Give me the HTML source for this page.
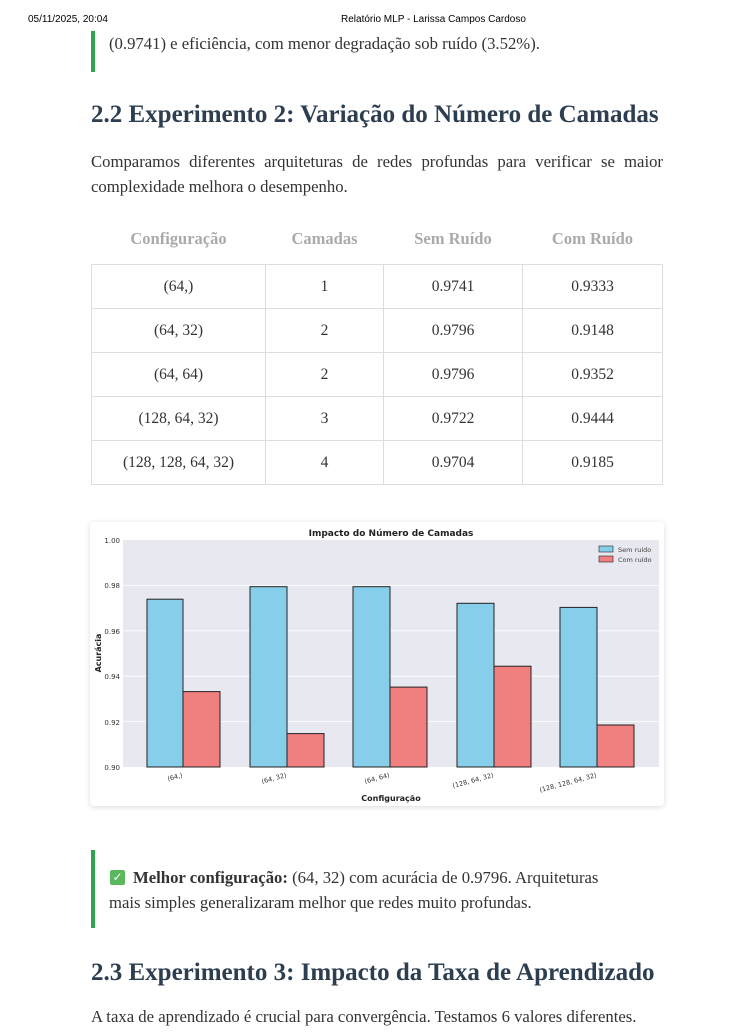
<!DOCTYPE html>
<html><head><meta charset="utf-8"><style>
body{margin:0;width:754px;height:1035px;background:#fff;position:relative;overflow:hidden;font-family:"Liberation Serif",serif;color:#333}
.a{position:absolute;white-space:nowrap}
.h{font-weight:bold;color:#2c3e50;font-size:25px}
.p{font-size:16.7px;color:#333}
table{position:absolute;left:91px;top:220px;border-collapse:collapse;font-size:15.5px;color:#333}
th{color:#aaa;font-weight:bold;font-size:16.5px;height:38px;padding:0 0 6px 0}
td{border:1px solid #ddd;text-align:center;height:43px;padding:0}
</style></head><body>
<div class="a" style="left:28px;top:14px;font:10px 'Liberation Sans',sans-serif;color:#000">05/11/2025, 20:04</div>
<div class="a" style="left:341px;top:14px;font:10px 'Liberation Sans',sans-serif;color:#000">Relatório MLP - Larissa Campos Cardoso</div>
<div class="a" style="left:91px;top:31px;width:4px;height:41px;background:#2ea44f"></div>
<div class="a p" style="left:109px;top:34px">(0.9741) e eficiência, com menor degradação sob ruído (3.52%).</div>
<div class="a h" style="left:91px;top:101px">2.2 Experimento 2: Variação do Número de Camadas</div>
<div class="a p" style="left:91px;top:149px;width:572px;line-height:25px;white-space:normal;text-align:justify">Comparamos diferentes arquiteturas de redes profundas para verificar se maior complexidade melhora o desempenho.</div>
<table>
<tr><th style="width:174px">Configuração</th><th style="width:118px">Camadas</th><th style="width:139px">Sem Ruído</th><th style="width:140px">Com Ruído</th></tr>
<tr><td>(64,)</td><td>1</td><td>0.9741</td><td>0.9333</td></tr>
<tr><td>(64, 32)</td><td>2</td><td>0.9796</td><td>0.9148</td></tr>
<tr><td>(64, 64)</td><td>2</td><td>0.9796</td><td>0.9352</td></tr>
<tr><td>(128, 64, 32)</td><td>3</td><td>0.9722</td><td>0.9444</td></tr>
<tr><td>(128, 128, 64, 32)</td><td>4</td><td>0.9704</td><td>0.9185</td></tr>
</table>
<div class="a" style="left:90px;top:522px;width:574px;height:284px;background:#fff;box-shadow:0 1px 6px rgba(0,0,0,0.15);border-radius:4px">
<svg width="574" height="284" font-family="DejaVu Sans,sans-serif">
<rect x="33" y="18" width="536" height="227" fill="#e8e8f0"/>
<g stroke="#fff" stroke-width="0.8">
<line x1="33" x2="569" y1="63.4" y2="63.4"/><line x1="33" x2="569" y1="108.8" y2="108.8"/><line x1="33" x2="569" y1="154.2" y2="154.2"/><line x1="33" x2="569" y1="199.6" y2="199.6"/>
</g>
<g font-size="7" fill="#333" text-anchor="end">
<text x="30" y="21">1.00</text><text x="30" y="66">0.98</text><text x="30" y="112">0.96</text><text x="30" y="157">0.94</text><text x="30" y="203">0.92</text><text x="30" y="248">0.90</text>
</g>
<g stroke="#222" stroke-width="1">
<rect x="57" y="77.2" width="36" height="167.8" fill="#87ceeb"/><rect x="93" y="169.6" width="37" height="75.4" fill="#f08080"/>
<rect x="160" y="64.7" width="37" height="180.3" fill="#87ceeb"/><rect x="197" y="211.6" width="37" height="33.4" fill="#f08080"/>
<rect x="263" y="64.7" width="37" height="180.3" fill="#87ceeb"/><rect x="300" y="165.1" width="37" height="79.9" fill="#f08080"/>
<rect x="367" y="81.3" width="37" height="163.7" fill="#87ceeb"/><rect x="404" y="144.2" width="37" height="100.8" fill="#f08080"/>
<rect x="470" y="85.4" width="37" height="159.6" fill="#87ceeb"/><rect x="507" y="203.0" width="37" height="42" fill="#f08080"/>
</g>
<g font-size="6.5" fill="#333" text-anchor="end">
<text transform="translate(93,255) rotate(-15)">(64,)</text>
<text transform="translate(197,255) rotate(-15)">(64, 32)</text>
<text transform="translate(300,255) rotate(-15)">(64, 64)</text>
<text transform="translate(404,255) rotate(-15)">(128, 64, 32)</text>
<text transform="translate(507,255) rotate(-15)">(128, 128, 64, 32)</text>
</g>
<text x="301" y="14" font-size="9" font-weight="bold" text-anchor="middle" fill="#222">Impacto do Número de Camadas</text>
<text x="301" y="279" font-size="8" font-weight="bold" text-anchor="middle" fill="#222">Configuração</text>
<text transform="translate(11,131) rotate(-90)" font-size="8" font-weight="bold" text-anchor="middle" fill="#222">Acurácia</text>
<rect x="509" y="24" width="14" height="6" fill="#87ceeb" stroke="#222" stroke-width="0.6"/>
<rect x="509" y="34" width="14" height="6" fill="#f08080" stroke="#222" stroke-width="0.6"/>
<g font-size="6.5" fill="#444"><text x="528" y="30">Sem ruído</text><text x="528" y="40">Com ruído</text></g>
</svg></div>
<div class="a" style="left:91px;top:850px;width:4px;height:78px;background:#2ea44f"></div>
<div class="a" style="left:110px;top:870px;width:15px;height:15px;background:#5cb85c;border-radius:2px;color:#fff;font-size:12px;line-height:15px;text-align:center;font-family:'DejaVu Sans',sans-serif">✓</div>
<div class="a p" style="left:133px;top:868px"><b>Melhor configuração:</b> (64, 32) com acurácia de 0.9796. Arquiteturas</div>
<div class="a p" style="left:109px;top:893px">mais simples generalizaram melhor que redes muito profundas.</div>
<div class="a h" style="left:91px;top:959px">2.3 Experimento 3: Impacto da Taxa de Aprendizado</div>
<div class="a p" style="left:91px;top:1007px">A taxa de aprendizado é crucial para convergência. Testamos 6 valores diferentes.</div>
</body></html>
